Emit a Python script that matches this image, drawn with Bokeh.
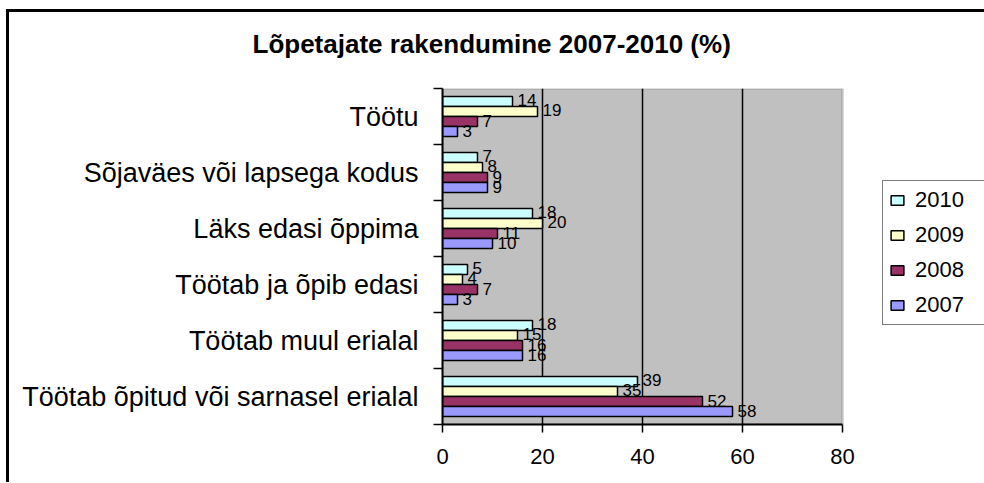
from bokeh.plotting import figure
from bokeh.models import (ColumnDataSource, FixedTicker, Legend, LegendItem, Title,
                          LabelSet, BoxAnnotation, Grid)
from bokeh.layouts import column
from bokeh.core.properties import value
from bokeh.transform import dodge
from bokeh.embed import file_html
from bokeh.resources import INLINE

title_text = "Lõpetajate rakendumine 2007-2010 (%)"
categories = [
    "Töötu",
    "Sõjaväes või lapsega kodus",
    "Läks edasi õppima",
    "Töötab ja õpib edasi",
    "Töötab muul erialal",
    "Töötab õpitud või sarnasel erialal",
]
years = ["2010", "2009", "2008", "2007"]
v2010 = [14, 7, 18, 5, 18, 39]
v2009 = [19, 8, 20, 4, 15, 35]
v2008 = [7, 9, 11, 7, 16, 52]
v2007 = [3, 9, 10, 3, 16, 58]
x_ticks = [0, 20, 40, 60, 80]
x_max = 80
colors = ["#CCFFFF", "#FFFFCC", "#993366", "#9999FF"]

series = [v2010, v2009, v2008, v2007]
n = len(categories)
ypos = [n - 0.5 - i for i in range(n)]

FONT = "Liberation Sans"

# plot area 400px wide for 0..80; the frame is extended to the right to hold the legend
plot_w = 400
frame_w = 542
p = figure(
    frame_width=frame_w, frame_height=336,
    x_range=(0, x_max * frame_w / plot_w), y_range=(0, n),
    output_backend="svg", toolbar_location=None,
    min_border_left=442, min_border_right=0,
    min_border_top=86, min_border_bottom=58,
    background_fill_color="#ffffff", border_fill_color=None,
)
p.outline_line_color = None
p.xgrid.visible = False
p.ygrid.visible = False

plot_area = BoxAnnotation(left=0, right=x_max, bottom=0, top=n,
                          fill_color="#C0C0C0", fill_alpha=1,
                          line_color="#808080", line_width=3, level="underlay")
p.add_layout(plot_area)
vgrid = Grid(dimension=0, ticker=FixedTicker(ticks=x_ticks[1:-1]),
             grid_line_color="#000000", grid_line_width=1.5, level="underlay")
p.add_layout(vgrid)

bar_h = 0.1786
offsets = [1.5 * bar_h, 0.5 * bar_h, -0.5 * bar_h, -1.5 * bar_h]
items = []
for vals, yr, col, off in zip(series, years, colors, offsets):
    src = ColumnDataSource(dict(y=ypos, v=vals, lab=[str(v) for v in vals]))
    r = p.hbar(y=dodge("y", off), right="v", left=0, height=bar_h, source=src,
               fill_color=col, line_color="#000000", line_width=1.5)
    items.append(LegendItem(label=yr, renderers=[r]))
    lbl = LabelSet(x="v", y=dodge("y", off), text="lab", source=src,
                   x_offset=5, y_offset=1, text_font=value(FONT), text_font_size="17px",
                   text_baseline="middle", text_align="left", text_color="#000000")
    p.add_layout(lbl)

# x axis
xa = p.xaxis[0]
xa.ticker = FixedTicker(ticks=x_ticks)
xa.bounds = (0, x_max)
xa.axis_line_color = "#000000"
xa.axis_line_width = 2
xa.major_tick_line_color = "#000000"
xa.major_tick_line_width = 1.5
xa.major_tick_out = 8
xa.major_tick_in = 0
xa.minor_tick_line_color = None
xa.major_label_text_font = FONT
xa.major_label_text_font_size = "22px"
xa.major_label_text_color = "#000000"
xa.major_label_standoff = 16

# y axis
ya = p.yaxis[0]
ya.ticker = FixedTicker(ticks=ypos, minor_ticks=list(range(n + 1)))
ya.major_label_overrides = {y: c for y, c in zip(ypos, categories)}
ya.axis_line_color = "#000000"
ya.axis_line_width = 2
ya.major_tick_line_color = None
ya.major_tick_out = 0
ya.major_tick_in = 0
ya.minor_tick_line_color = "#000000"
ya.minor_tick_line_width = 1.5
ya.minor_tick_out = 9
ya.minor_tick_in = 0
ya.major_label_text_font = FONT
ya.major_label_text_font_size = "27px"
ya.major_label_text_color = "#000000"
ya.major_label_standoff = 15

# title
t = Title(text=title_text, align="left", offset=-190, standoff=56,
          vertical_align="top",
          text_font=FONT, text_font_size="26px", text_font_style="bold",
          text_color="#000000")
p.add_layout(t, "above")

legend = Legend(items=items, location=(440, 99))
legend.label_text_font = FONT
legend.label_text_font_size = "22px"
legend.label_text_color = "#000000"
legend.glyph_width = 16
legend.glyph_height = 12
legend.label_standoff = 10
legend.label_width = 64
legend.label_height = 20
legend.spacing = 9
legend.padding = 6
legend.margin = 0
legend.border_line_color = "#000000"
legend.border_line_width = 1.5
legend.background_fill_color = "white"
legend.background_fill_alpha = 1
p.add_layout(legend, "center")

page = column(p, styles={"box-shadow": "inset 6px 9px 0 0 #ffffff, inset 9px 12px 0 0 #000000",
                         "background-color": "#ffffff"})

open("out.html", "w").write(file_html(page, INLINE))
